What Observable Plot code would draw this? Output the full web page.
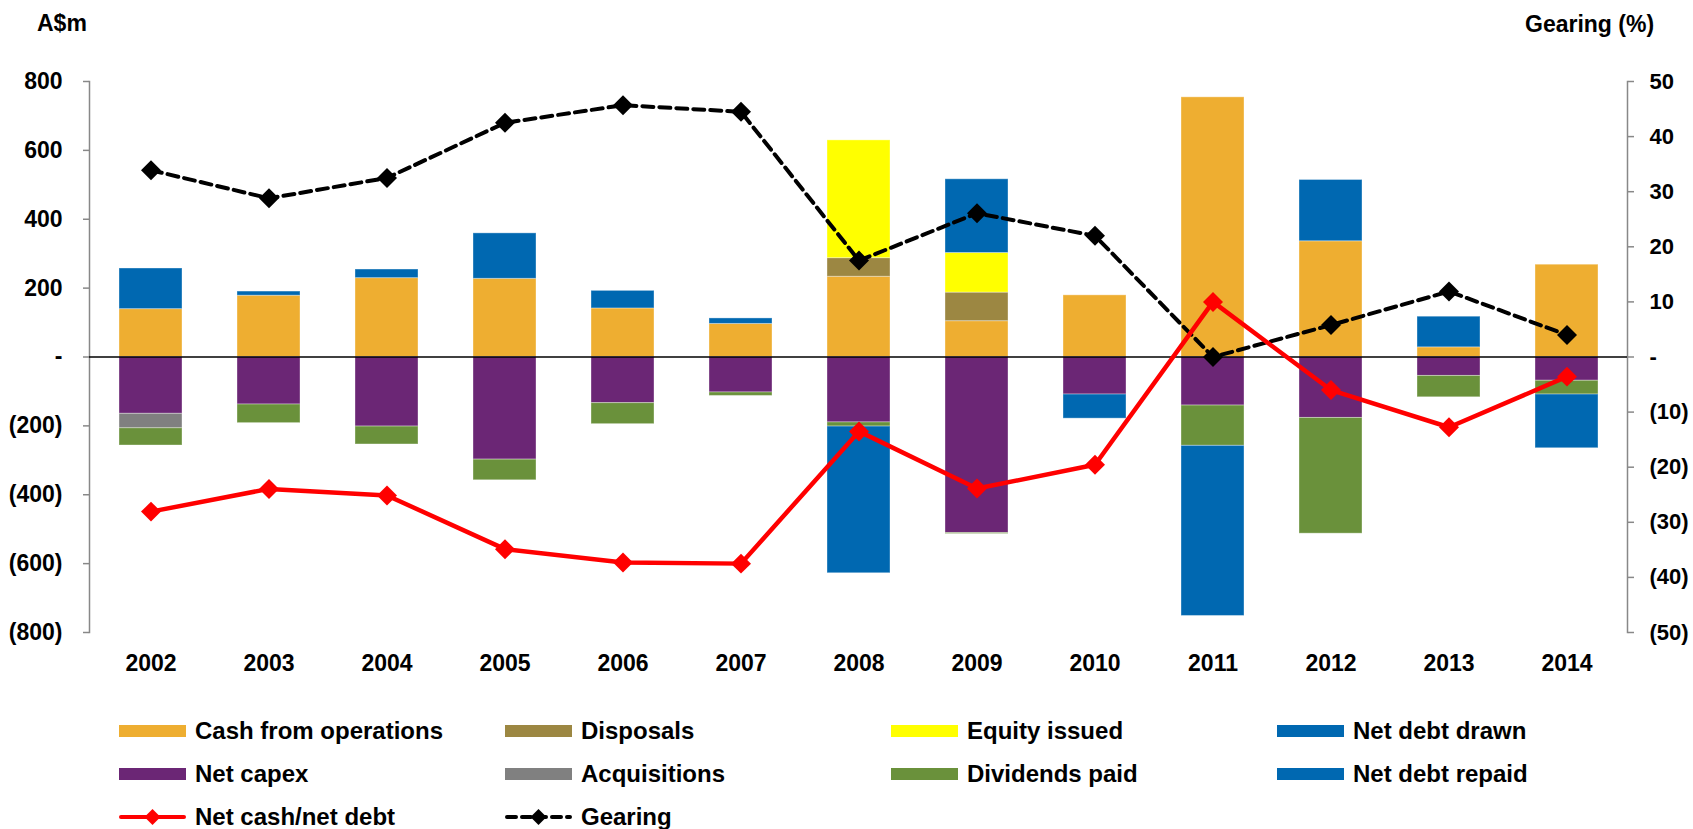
<!DOCTYPE html>
<html><head><meta charset="utf-8">
<script src="https://cdn.jsdelivr.net/npm/d3@7"></script>
<script src="https://cdn.jsdelivr.net/npm/@observablehq/plot@0.6"></script>
<style>
body{margin:0;background:#fff;font-family:"Liberation Sans",Arial,sans-serif;font-weight:bold;color:#000}
#wrap{position:relative;width:1693px;height:829px;overflow:hidden}
.ttl{position:absolute;font-size:23px;line-height:23px;white-space:nowrap}
#chart svg{display:block}
#legend{display:grid;grid-template-columns:repeat(4,386px);grid-auto-rows:43px;padding-left:119px;padding-top:19px}
.item{display:flex;align-items:center;font-size:24px;white-space:nowrap}
.sw{width:67px;height:12px;margin-right:9px;flex:none}
.lsw{width:67px;height:22px;margin-right:9px;flex:none}
</style></head><body>
<div id="wrap">
<div class="ttl" style="left:37px;top:12px">A$m</div>
<div class="ttl" style="left:1525px;top:13px">Gearing (%)</div>
<div id="chart"></div>
<div id="legend"></div>
</div>
<script>
const years = [2002,2003,2004,2005,2006,2007,2008,2009,2010,2011,2012,2013,2014];

const cashFromOperations = [139,178,229,227,141,96,233,104,179,754,336,28,268];
const disposals          = [0,0,0,0,0,0,54,83,0,0,0,0,0];
const equityIssued       = [0,0,0,0,0,0,342,115,0,0,0,0,0];
const netDebtDrawn       = [118,12,25,132,51,16,0,214,0,0,178,89,0];
const netCapex           = [-165,-138,-202,-298,-134,-103,-190,-511,-109,-141,-177,-55,-69];
const acquisitions       = [-42,0,0,0,0,0,0,0,0,0,0,0,0];
const dividendsPaid      = [-50,-54,-52,-60,-61,-10,-12,-3,0,-117,-336,-62,-40];
const netDebtRepaid      = [0,0,0,0,0,0,-426,0,-70,-494,0,0,-156];

const netCash = [-449,-383,-402,-558,-597,-600,-216,-382,-313,160,-96,-204,-57];
const gearing = [33.9,28.8,32.5,42.5,45.7,44.5,17.5,26.1,22.0,0.0,5.8,11.9,4.0];

const leftTicks  = [-800,-600,-400,-200,0,200,400,600,800];
const rightTicks = [-50,-40,-30,-20,-10,0,10,20,30,40,50];

const seriesNames  = ["Cash from operations","Disposals","Equity issued","Net debt drawn","Net capex","Acquisitions","Dividends paid","Net debt repaid"];
const seriesValues = [cashFromOperations,disposals,equityIssued,netDebtDrawn,netCapex,acquisitions,dividendsPaid,netDebtRepaid];
const seriesColors = ["#EEAE31","#9C8742","#FFFF00","#0068B1","#6B2675","#808080","#6A913B","#0068B1"];

const rows = [];
seriesNames.forEach((name, i) => {
  seriesValues[i].forEach((v, j) => {
    if (v !== 0) rows.push({year: String(years[j]), series: name, value: v, color: seriesColors[i]});
  });
});

// secondary axis mapping: gearing % onto the A$m scale
const k = leftTicks[leftTicks.length - 1] / rightTicks[rightTicks.length - 1];
const netRows  = years.map((y, i) => ({year: String(y), value: netCash[i]}));
const gearRows = years.map((y, i) => ({year: String(y), value: gearing[i] * k}));

const fmt = v => v === 0 ? "-" : v < 0 ? `(${-v})` : `${v}`;

const chart = Plot.plot({
  width: 1693, height: 690,
  marginTop: 81, marginBottom: 58, marginLeft: 89, marginRight: 66,
  style: {fontFamily: '"Liberation Sans", Arial, sans-serif', fontSize: "23px", fontWeight: "bold", color: "#000", background: "white", overflow: "visible"},
  x: {type: "band", domain: years.map(String), paddingInner: 0.47, paddingOuter: 0.235, label: null},
  y: {domain: [-800, 800], label: null},
  marks: [
    Plot.frame({anchor: "left", stroke: "#888", strokeWidth: 1.5}),
    Plot.frame({anchor: "right", stroke: "#888", strokeWidth: 1.5}),
    Plot.axisY({anchor: "left", ticks: leftTicks, tickFormat: fmt, tickSize: 6, tickPadding: 21, stroke: "#888", strokeWidth: 1.5, label: null}),
    Plot.axisY({anchor: "right", ticks: rightTicks.map(g => g * k), tickFormat: d => fmt(Math.round(d / k)), tickSize: 6, tickPadding: 16, fontSize: 22, stroke: "#888", strokeWidth: 1.5, label: null}),
    Plot.axisX({tickSize: 0, tickPadding: 22, label: null}),
    Plot.barY(rows, {x: "year", y: "value", z: "series", fill: "color", stroke: "white", strokeOpacity: 0.35, strokeWidth: 1}),
    Plot.ruleY([0], {stroke: "#000", strokeWidth: 1.3}),
    Plot.line(gearRows, {x: "year", y: "value", stroke: "#000", strokeWidth: 4, strokeDasharray: "11 6"}),
    Plot.dot(gearRows, {x: "year", y: "value", symbol: "diamond2", r: 9, fill: "#000", stroke: "none"}),
    Plot.line(netRows, {x: "year", y: "value", stroke: "#FF0000", strokeWidth: 4.5}),
    Plot.dot(netRows, {x: "year", y: "value", symbol: "diamond2", r: 9, fill: "#FF0000", stroke: "none"})
  ]
});
document.getElementById("chart").appendChild(chart);

// legend
const legend = document.getElementById("legend");
seriesNames.forEach((name, i) => {
  const it = document.createElement("div");
  it.className = "item";
  it.innerHTML = `<span class="sw" style="background:${seriesColors[i]}"></span><span>${name}</span>`;
  legend.appendChild(it);
});
const lineItems = [
  {name: "Net cash/net debt", color: "#FF0000", dash: null},
  {name: "Gearing", color: "#000", dash: "9 6"}
];
lineItems.forEach(li => {
  const it = document.createElement("div");
  it.className = "item";
  it.innerHTML = `<svg class="lsw" viewBox="0 0 67 22"><line x1="2" y1="11" x2="65" y2="11" stroke="${li.color}" stroke-width="4" ${li.dash ? `stroke-dasharray="${li.dash}"` : ""} stroke-linecap="round"/><polygon points="33.5,3 41.5,11 33.5,19 25.5,11" fill="${li.color}"/></svg><span>${li.name}</span>`;
  legend.appendChild(it);
});
</script>
</body></html>
